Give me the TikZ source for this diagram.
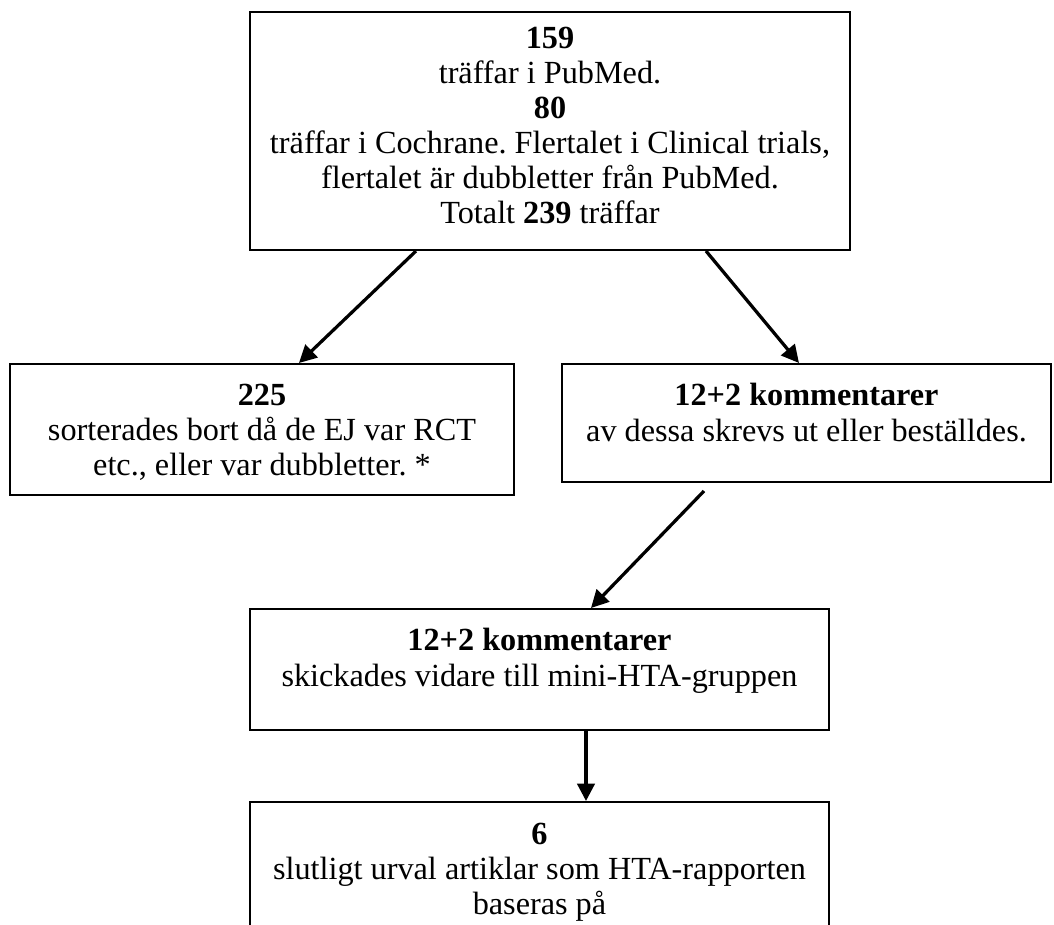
\documentclass[tikz,border=0pt]{standalone}
\usepackage{fontspec}
\setmainfont{Liberation Serif}
\usetikzlibrary{arrows.meta,calc}
\frenchspacing
\begin{document}
\begin{tikzpicture}[x=0.4pt,y=-0.4pt,
  boxnode/.style={draw=black, line width=0.8pt, rectangle, inner sep=0pt},
  txt/.style={inner sep=0pt, align=center, anchor=north, font=\fontsize{12.9pt}{14pt}\selectfont},
  arr/.style={line width=1.3pt, -{Triangle[length=7pt,width=7pt]}}]
\clip (0,0) rectangle (1054,925);
\fill[white] (0,0) rectangle (1054,925);
% boxes
\node[boxnode, minimum width=240pt, minimum height=95.2pt] (top) at (550,131) {};
\node[boxnode, minimum width=201.6pt, minimum height=52.4pt] (left) at (262,429.5) {};
\node[boxnode, minimum width=195.6pt, minimum height=47.2pt] (right) at (806.5,423) {};
\node[boxnode, minimum width=231.6pt, minimum height=48.4pt] (mid) at (539.5,669.5) {};
\node[boxnode, minimum width=231.6pt, minimum height=63.2pt] (bot) at (539.5,881) {};
% texts
\node[txt] (toptxt) at ($(top.north)+(0,13)$) {\strut\textbf{159}\\träffar i PubMed.\\\textbf{80}\\träffar i Cochrane. Flertalet i Clinical trials,\\flertalet är dubbletter från PubMed.\\Totalt \textbf{239} träffar};
\node[txt] (lefttxt) at ($(left.north)+(0,18)$) {\strut\textbf{225}\\sorterades bort då de EJ var RCT\\etc., eller var dubbletter. *};
\node[txt] (righttxt) at ($(right.north)+(0,18)$) {\strut\textbf{12+2 kommentarer}\\av dessa skrevs ut eller beställdes.};
\node[txt] (midtxt) at ($(mid.north)+(0,18)$) {\strut\textbf{12+2 kommentarer}\\skickades vidare till mini-HTA-gruppen};
\node[txt] (bottxt) at ($(bot.north)+(0,18)$) {\strut\textbf{6}\\slutligt urval artiklar som HTA-rapporten\\baseras på};
% connectors
\draw[arr] ($(top.south west)+(167,0)$) -- ($(left.north west)+(290,0)$);
\draw[arr] ($(top.south west)+(457,0)$) -- ($(right.north west)+(238,0)$);
\draw[arr] ($(right.south west)+(143,8)$) -- ($(mid.north west)+(342,0)$);
\draw[arr] ($(mid.south west)+(337,0)$) -- ($(bot.north west)+(337,0)$);
\end{tikzpicture}
\end{document}
